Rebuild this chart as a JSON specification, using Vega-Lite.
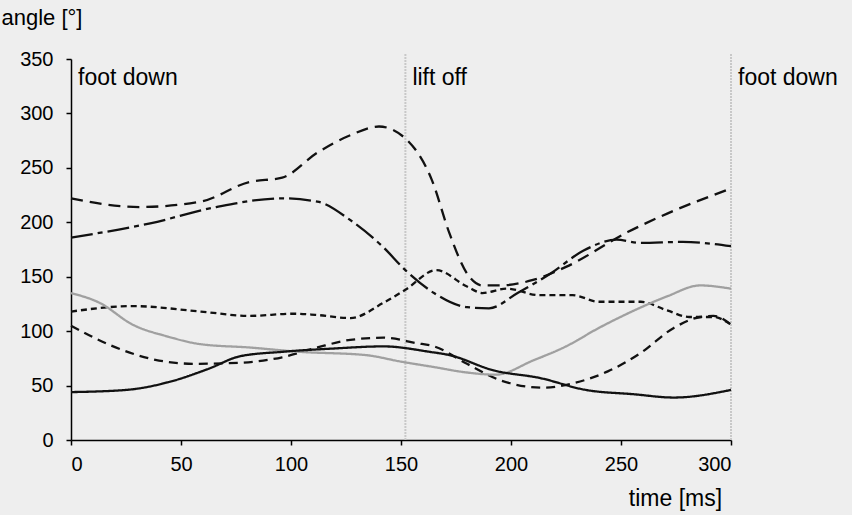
{
  "$schema": "https://vega.github.io/schema/vega-lite/v6.json",
  "width": 660,
  "height": 381,
  "autosize": {"type": "none"},
  "padding": {"left": 71, "top": 59, "right": 121, "bottom": 75},
  "background": "#eeeeee",
  "config": {
    "view": {"stroke": null},
    "font": "Liberation Sans",
    "axis": {"grid": false, "domainColor": "#000", "tickColor": "#000", "labelColor": "#000", "titleColor": "#000", "labelFontSize": 20, "titleFontSize": 22, "titleFontWeight": "normal", "domainWidth": 1.5, "tickWidth": 1.5}
  },
  "datasets": {
    "lines": [
      {"s": "A", "t": 0, "v": 222}, {"s": "A", "t": 31, "v": 214}, {"s": "A", "t": 59, "v": 219}, {"s": "A", "t": 81, "v": 237}, {"s": "A", "t": 96, "v": 241}, {"s": "A", "t": 112, "v": 264}, {"s": "A", "t": 127, "v": 280}, {"s": "A", "t": 140, "v": 288}, {"s": "A", "t": 152, "v": 277}, {"s": "A", "t": 164, "v": 239}, {"s": "A", "t": 172, "v": 190}, {"s": "A", "t": 180, "v": 153}, {"s": "A", "t": 187, "v": 142}, {"s": "A", "t": 195, "v": 142}, {"s": "A", "t": 210, "v": 147}, {"s": "A", "t": 225, "v": 159}, {"s": "A", "t": 253, "v": 191}, {"s": "A", "t": 271, "v": 208}, {"s": "A", "t": 300, "v": 231},
      {"s": "B", "t": 0, "v": 186}, {"s": "B", "t": 36, "v": 199}, {"s": "B", "t": 66, "v": 214}, {"s": "B", "t": 96, "v": 222}, {"s": "B", "t": 112, "v": 219}, {"s": "B", "t": 127, "v": 202}, {"s": "B", "t": 142, "v": 177}, {"s": "B", "t": 152, "v": 156}, {"s": "B", "t": 165, "v": 135}, {"s": "B", "t": 180, "v": 122}, {"s": "B", "t": 190, "v": 121}, {"s": "B", "t": 203, "v": 135}, {"s": "B", "t": 218, "v": 153}, {"s": "B", "t": 233, "v": 174}, {"s": "B", "t": 248, "v": 184}, {"s": "B", "t": 259, "v": 181}, {"s": "B", "t": 278, "v": 182}, {"s": "B", "t": 300, "v": 178},
      {"s": "C", "t": 0, "v": 118}, {"s": "C", "t": 28, "v": 123}, {"s": "C", "t": 59, "v": 118}, {"s": "C", "t": 81, "v": 114}, {"s": "C", "t": 101, "v": 116}, {"s": "C", "t": 111, "v": 115}, {"s": "C", "t": 127, "v": 112}, {"s": "C", "t": 142, "v": 126}, {"s": "C", "t": 152, "v": 138}, {"s": "C", "t": 166, "v": 156}, {"s": "C", "t": 180, "v": 141}, {"s": "C", "t": 187, "v": 135}, {"s": "C", "t": 198, "v": 139}, {"s": "C", "t": 213, "v": 133}, {"s": "C", "t": 228, "v": 133}, {"s": "C", "t": 240, "v": 127}, {"s": "C", "t": 259, "v": 127}, {"s": "C", "t": 271, "v": 119}, {"s": "C", "t": 281, "v": 113}, {"s": "C", "t": 292, "v": 113}, {"s": "C", "t": 300, "v": 106},
      {"s": "D", "t": 0, "v": 105}, {"s": "D", "t": 18, "v": 87}, {"s": "D", "t": 40, "v": 73}, {"s": "D", "t": 56, "v": 70}, {"s": "D", "t": 77, "v": 71}, {"s": "D", "t": 96, "v": 76}, {"s": "D", "t": 112, "v": 85}, {"s": "D", "t": 127, "v": 92}, {"s": "D", "t": 142, "v": 94}, {"s": "D", "t": 157, "v": 89}, {"s": "D", "t": 165, "v": 86}, {"s": "D", "t": 180, "v": 70}, {"s": "D", "t": 195, "v": 55}, {"s": "D", "t": 215, "v": 48}, {"s": "D", "t": 228, "v": 52}, {"s": "D", "t": 244, "v": 63}, {"s": "D", "t": 259, "v": 80}, {"s": "D", "t": 274, "v": 103}, {"s": "D", "t": 286, "v": 113}, {"s": "D", "t": 292, "v": 114}, {"s": "D", "t": 300, "v": 106},
      {"s": "E", "t": 0, "v": 135}, {"s": "E", "t": 13, "v": 126}, {"s": "E", "t": 28, "v": 106}, {"s": "E", "t": 44, "v": 95}, {"s": "E", "t": 59, "v": 88}, {"s": "E", "t": 81, "v": 85}, {"s": "E", "t": 104, "v": 81}, {"s": "E", "t": 134, "v": 78}, {"s": "E", "t": 150, "v": 72}, {"s": "E", "t": 165, "v": 67}, {"s": "E", "t": 180, "v": 62}, {"s": "E", "t": 193, "v": 60}, {"s": "E", "t": 210, "v": 73}, {"s": "E", "t": 225, "v": 86}, {"s": "E", "t": 240, "v": 103}, {"s": "E", "t": 256, "v": 119}, {"s": "E", "t": 271, "v": 132}, {"s": "E", "t": 286, "v": 142}, {"s": "E", "t": 300, "v": 139},
      {"s": "F", "t": 0, "v": 44}, {"s": "F", "t": 25, "v": 46}, {"s": "F", "t": 44, "v": 53}, {"s": "F", "t": 62, "v": 65}, {"s": "F", "t": 77, "v": 77}, {"s": "F", "t": 96, "v": 81}, {"s": "F", "t": 119, "v": 84}, {"s": "F", "t": 142, "v": 86}, {"s": "F", "t": 163, "v": 81}, {"s": "F", "t": 172, "v": 78}, {"s": "F", "t": 192, "v": 64}, {"s": "F", "t": 213, "v": 57}, {"s": "F", "t": 234, "v": 46}, {"s": "F", "t": 256, "v": 42}, {"s": "F", "t": 274, "v": 39}, {"s": "F", "t": 300, "v": 46}
    ],
    "events": [
      {"t": 0, "label": "foot down", "rule": false},
      {"t": 152, "label": "lift off", "rule": true},
      {"t": 300, "label": "foot down", "rule": true}
    ]
  },
  "layer": [
    {
      "data": {"name": "events"},
      "transform": [{"filter": "datum.rule"}],
      "mark": {"type": "rule", "color": "#c8c8c8", "strokeWidth": 2, "strokeDash": [2, 1]},
      "encoding": {
        "x": {"field": "t", "type": "quantitative", "scale": {"domain": [0, 300]}},
        "y": {"datum": 0, "type": "quantitative"},
        "y2": {"datum": 355}
      }
    },
    {
      "data": {"name": "lines"},
      "mark": {"type": "line", "interpolate": "monotone", "clip": false},
      "encoding": {
        "x": {"field": "t", "type": "quantitative", "scale": {"domain": [0, 300], "nice": false},
          "axis": {"values": [0, 50, 100, 150, 200, 250, 300], "title": "time [ms]", "tickSize": 5, "labelPadding": 9, "titleAnchor": "start", "titleAlign": "center", "titleX": 604, "titleY": 65, "titleBaseline": "alphabetic", "titleFontSize": 23}},
        "y": {"field": "v", "type": "quantitative", "scale": {"domain": [0, 350], "nice": false},
          "axis": {"values": [0, 50, 100, 150, 200, 250, 300, 350], "title": "angle [°]", "titleAngle": 0, "titleAlign": "left", "titleAnchor": "start", "titleX": -70, "titleY": -35, "titleBaseline": "alphabetic", "titleFontSize": 22, "tickSize": 5, "labelPadding": 13}},
        "detail": {"field": "s"},
        "color": {"field": "s", "type": "nominal", "legend": null,
          "scale": {"domain": ["A", "B", "C", "D", "E", "F"], "range": ["#111", "#111", "#111", "#111", "#a0a0a0", "#111"]}},
        "strokeDash": {"field": "s", "type": "nominal", "legend": null,
          "scale": {"domain": ["A", "B", "C", "D", "E", "F"], "range": [[12, 7], [22, 5, 5, 5], [6, 4], [9, 6], [1, 0], [1, 0]]}},
        "strokeWidth": {"field": "s", "type": "nominal", "legend": null,
          "scale": {"domain": ["A", "B", "C", "D", "E", "F"], "range": [2.3, 2.3, 2.4, 2.3, 3.4, 3.6]}}
      }
    },
    {
      "data": {"name": "events"},
      "mark": {"type": "text", "align": "left", "baseline": "middle", "dx": 7, "fontSize": 23, "color": "#000"},
      "encoding": {
        "x": {"field": "t", "type": "quantitative"},
        "y": {"datum": 333, "type": "quantitative"},
        "text": {"field": "label"}
      }
    }
  ]
}
